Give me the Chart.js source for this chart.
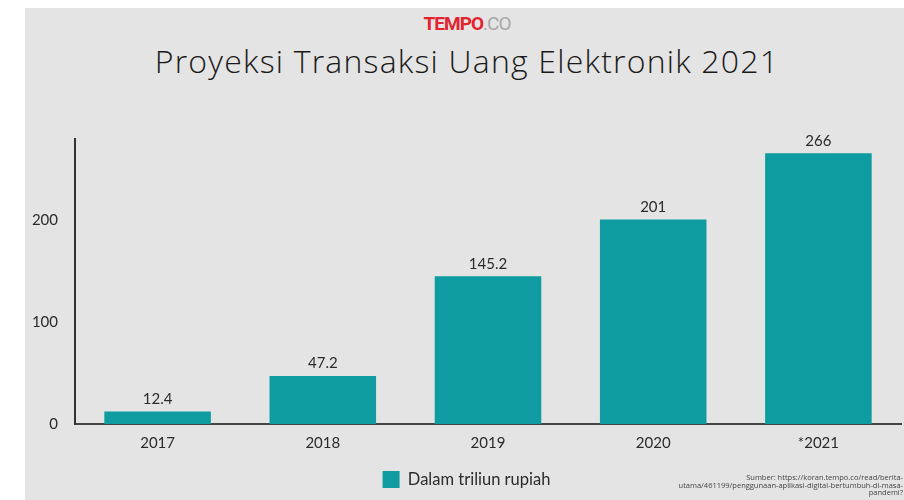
<!DOCTYPE html>
<html>
<head>
<meta charset="utf-8">
<script src="https://cdn.jsdelivr.net/npm/chart.js@4.4.0/dist/chart.umd.min.js"></script>
<style>
  html, body { margin: 0; padding: 0; background: #fff; }
  #wrap { position: relative; width: 904px; height: 500px; overflow: hidden; }
  #bg { position: absolute; left: 25px; top: 8px; right: 0; bottom: 0; background: #e4e4e4; }
  #logo { position: absolute; top: 12px; left: 0; width: 934px; text-align: center;
    font-family: "Liberation Sans Narrow", "Roboto", sans-serif; font-size: 19px; letter-spacing: -1px; }
  #logo b { color: #e3232f; font-weight: 700; }
  #logo span { color: #a8a8a8; font-weight: 400; }
  #title { position: absolute; top: 39px; left: 0; width: 934px; text-align: center;
    font-family: "Open Sans", sans-serif; font-weight: 300; font-size: 32px; letter-spacing: 1.2px; color: #1a1a1a; }
  #source { position: absolute; right: 1px; top: 474px; text-align: right;
    font-family: "Open Sans", sans-serif; font-size: 7.5px; line-height: 7.6px; color: #444; }
  canvas { position: absolute; left: 0; top: 0; }
</style>
</head>
<body>
<div id="wrap">
  <div id="bg"></div>
  <div id="logo"><b>TEMPO</b><span>.CO</span></div>
  <div id="title">Proyeksi Transaksi Uang Elektronik 2021</div>
  <canvas id="chartTransaksi" width="904" height="500"></canvas>
  <div id="source">Sumber: https://koran.tempo.co/read/berita-<br>utama/461199/penggunaan-aplikasi-digital-bertumbuh-di-masa-<br>pandemi?</div>
</div>
<script>
// data
const tahun = ['2017', '2018', '2019', '2020', '*2021']
const nilai = [12.4, 47.2, 145.2, 201, 266]
const ticksY = [0, 100, 200]
const warna = '#0f9ca0'

Chart.defaults.font.family = 'Lato, sans-serif'
Chart.defaults.font.size = 15
Chart.defaults.color = '#2b2b2b'

// label angka di atas batang
const labelBatang = {
  id: 'labelBatang',
  afterDatasetsDraw(chart) {
    const ctx = chart.ctx
    const meta = chart.getDatasetMeta(0)
    ctx.save()
    ctx.font = '15px Lato, sans-serif'
    ctx.fillStyle = '#2b2b2b'
    ctx.textAlign = 'center'
    ctx.textBaseline = 'bottom'
    meta.data.forEach((bar, i) => {
      ctx.fillText(String(nilai[i]), bar.x, bar.y - 5)
    })
    ctx.restore()
  }
}

new Chart(document.getElementById('chartTransaksi'), {
  type: 'bar',
  data: {
    labels: tahun,
    datasets: [{
      label: 'Dalam triliun rupiah',
      data: nilai,
      backgroundColor: warna,
      borderWidth: 0,
      barPercentage: 0.645,
      categoryPercentage: 1
    }]
  },
  options: {
    responsive: false,
    animation: false,
    layout: { padding: { top: 139, right: 3, bottom: 2, left: 32 } },
    plugins: {
      tooltip: { enabled: false },
      legend: {
        position: 'bottom',
        labels: { boxWidth: 17, boxHeight: 17, padding: 10, color: '#2b2b2b', font: { size: 16.5 } }
      }
    },
    scales: {
      x: {
        grid: { display: false, drawTicks: false },
        border: { color: '#444', width: 2 },
        ticks: { padding: 10 },
        afterFit(scale) { scale.height = 37 }
      },
      y: {
        min: 0,
        max: 280,
        grid: { display: false, drawTicks: false },
        border: { color: '#333', width: 2 },
        afterBuildTicks(scale) { scale.ticks = ticksY.map(v => ({ value: v })) },
        ticks: { padding: 17 },
        afterFit(scale) { scale.width = 43 }
      }
    }
  },
  plugins: [labelBatang]
})
</script>
</body>
</html>
